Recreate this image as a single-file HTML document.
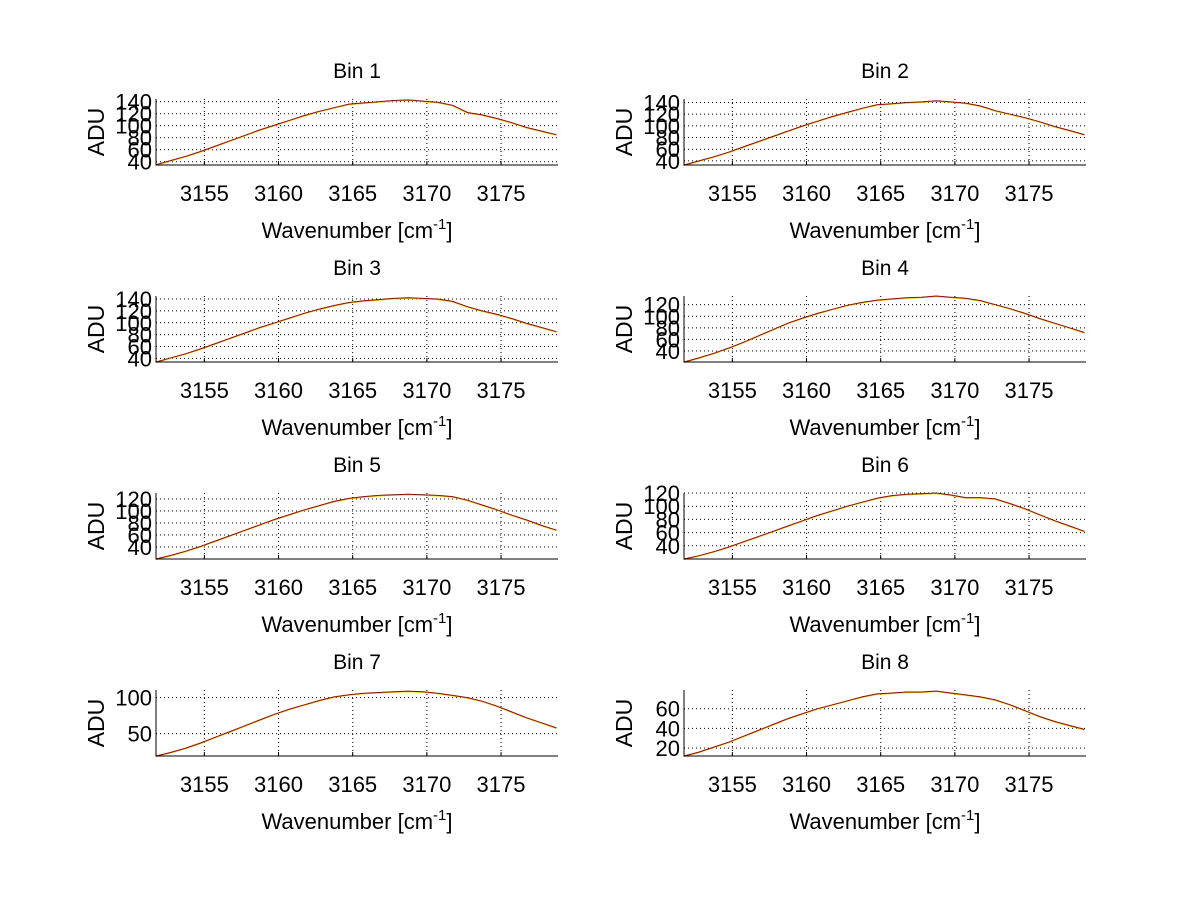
<!DOCTYPE html>
<html><head><meta charset="utf-8">
<style>
html,body{margin:0;padding:0;background:#fff;}
svg{display:block;font-family:"Liberation Sans",Arial,sans-serif;}
</style></head>
<body>
<svg id="fig" width="1200" height="901" viewBox="0 0 1200 901"></svg>
<script>
// Data: wavenumber samples at 1 cm^-1 steps from 3151.74
const xStart = 3151.74;
const xEnd = 3178.84;
const xTicks = [3155, 3160, 3165, 3170, 3175];
const bin1 = [35,42,49,57,66,75,84,93,101,109,117,124,130,136,138,140,142,143,141,139,134,122,118,112,105,97,91,85];
const bin2 = [33,40,47,55,64,73,82,91,100,108,116,123,130,136,138,140,141,143,141,139,134,126,120,114,107,99,92,85];
const bin3 = [34,41,48,56,65,74,83,92,100,108,116,123,129,134,137,139,141,142,141,140,136,127,120,114,107,99,92,85];
const bin4 = [21,28,36,45,55,66,77,88,97,105,112,119,124,128,130,132,133,135,133,131,127,120,113,105,96,88,80,72];
const bin5 = [20,26,33,41,50,59,68,77,86,94,102,109,116,121,124,126,127,128,127,126,124,118,110,102,93,85,76,68];
const bin6 = [20,25,31,38,46,54,62,70,78,86,93,100,106,112,116,118,119,120,117,113,113,111,104,96,87,78,70,62];
const bin7 = [19,24,30,37,45,53,61,69,77,84,90,96,101,104,106,107,108,109,108,106,103,100,95,88,80,72,65,58];
const bin8 = [12,16,21,26,32,38,44,50,55,60,64,68,72,75,76,77,77,78,76,74,72,69,64,58,52,47,43,39];
const binTitles = ["Bin 1","Bin 2","Bin 3","Bin 4","Bin 5","Bin 6","Bin 7","Bin 8"];
const yLims = [[34.5,144.5],[33,146],[34,145],[21,135],[20,130],[20,120],[19,110.5],[12,79]];
const yTicks1 = [40,60,80,100,120,140];
const yTicks4 = [40,60,80,100,120];
const yTicks7 = [50,100];
const yTicks8 = [20,40,60];

const series = [bin1,bin2,bin3,bin4,bin5,bin6,bin7,bin8];
const yTickSets = [yTicks1,yTicks1,yTicks1,yTicks4,yTicks4,yTicks4,yTicks7,yTicks8];

const NS = "http://www.w3.org/2000/svg";
const svg = document.getElementById('fig');
function mk(tag, attrs, parent){
  const e = document.createElementNS(NS, tag);
  for (const k in attrs) e.setAttribute(k, attrs[k]);
  (parent||svg).appendChild(e);
  return e;
}

const colX = [156, 684];
const rowTop = [99, 296, 493, 690];
const W = 402, H = 66;

for (let b = 0; b < 8; b++) {
  const col = b % 2, row = Math.floor(b / 2);
  const L = colX[col], T = rowTop[row], B = T + H, R = L + W;
  const g = mk('g', {});
  
  
  const [y0, y1] = yLims[b];
  const sx = v => L + (v - xStart) / (xEnd - xStart) * W;
  const sy = v => B - (v - y0) / (y1 - y0) * H;

  xTicks.forEach(t => {
    const gl = mk('line', {x1:sx(t), x2:sx(t), y1:T, y2:B, stroke:'#000', 'stroke-width':1, 'stroke-dasharray':'1,3'}, g);
    
    
    const tk = mk('line', {x1:sx(t), x2:sx(t), y1:B, y2:B-4, stroke:'#000', 'stroke-width':1}, g);
    
    
    const tl = mk('text', {x:sx(t), y:B+36, 'text-anchor':'middle', 'font-size':22, fill:'#000'}, g);
    tl.textContent = t;
    
    
  });
  yTickSets[b].forEach(t => {
    const gl = mk('line', {x1:L, x2:R, y1:sy(t), y2:sy(t), stroke:'#000', 'stroke-width':1, 'stroke-dasharray':'1,3'}, g);
    
    
    const tl = mk('text', {x:L-4, y:sy(t)+8, 'text-anchor':'end', 'font-size':22, fill:'#000'}, g);
    tl.textContent = t;
    
    
  });

  const data = series[b];
  const ptsY = data.map((v,i) => sx(xStart + i).toFixed(1) + ',' + (sy(v)+0.7).toFixed(1)).join(' ');
  const ly = mk('polyline', {points:ptsY, fill:'none', stroke:'#e8c800', 'stroke-width':0.8}, g);
  
  
  const pts = data.map((v,i) => sx(xStart + i).toFixed(1) + ',' + sy(v).toFixed(1)).join(' ');
  const lr = mk('polyline', {points:pts, fill:'none', stroke:'#8e0c14', 'stroke-width':1}, g);
  
  

  const ax = mk('path', {d:`M${L},${T} L${L},${B} L${R},${B}`, fill:'none', stroke:'#000', 'stroke-width':1}, g);
  
  

  const ti = mk('text', {x:L+W/2, y:T-21, 'text-anchor':'middle', 'font-size':21, fill:'#000'}, g);
  ti.textContent = binTitles[b];
  
  

  const xl = mk('text', {x:L+W/2, y:B+73, 'text-anchor':'middle', 'font-size':22, fill:'#000'}, g);
  
  
  const s1 = mk('tspan', {}, xl); s1.textContent = 'Wavenumber [cm';
  const s2 = mk('tspan', {dy:-9, 'font-size':15}, xl); s2.textContent = '-1';
  const s3 = mk('tspan', {dy:9}, xl); s3.textContent = ']';

  const cy = T + H/2;
  const yl = mk('text', {x:L-60, y:cy, 'text-anchor':'middle', 'font-size':23, fill:'#000', transform:`rotate(-90 ${L-60} ${cy})`, dy:8}, g);
  yl.textContent = 'ADU';
  
  
}
</script>
</body></html>
